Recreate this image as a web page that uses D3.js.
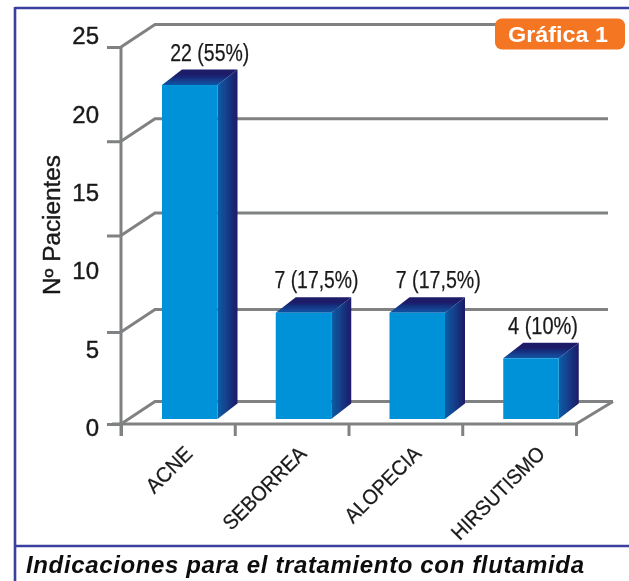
<!DOCTYPE html>
<html><head><meta charset="utf-8">
<script src="https://cdn.jsdelivr.net/npm/d3@7"></script>
<style>html,body{margin:0;padding:0;background:#fff}svg{display:block}text{font-family:"Liberation Sans",Arial,sans-serif}</style>
</head><body><div id="c"></div>
<script>
const categories=["ACNE","SEBORREA","ALOPECIA","HIRSUTISMO"];
const patients=[22,7,7,4];
const valueLabels=["22 (55%)","7 (17,5%)","7 (17,5%)","4 (10%)"];
const tickLabels=[0,5,10,15,20,25];
const gridTicks=[0,6.1,12.5,18.75,25];
const valueLabelShift=[10,3,11,2];
const valueLabelWidths=[79,84,85,70];
const catLabelWidths=[56,108,98,122];
const catLabelShift=[8,8,9,19];
const title="Indicaciones para el tratamiento con flutamida";
const badge="Gráfica 1";
const yTitle="Nº Pacientes";

const W=629,H=581;
const svg=d3.select("#c").append("svg").attr("width",W).attr("height",H);
const defs=svg.append("defs");
defs.append("filter").attr("id","soft").attr("x","-5%").attr("y","-5%").attr("width","110%").attr("height","110%")
  .append("feGaussianBlur").attr("stdDeviation",0.5);
const side=defs.append("linearGradient").attr("id","side");
side.append("stop").attr("offset","0").attr("stop-color","#0d5fa8");
side.append("stop").attr("offset","1").attr("stop-color","#1c1a68");
const topG=defs.append("linearGradient").attr("id","topface").attr("x1",0).attr("x2",0).attr("y1",1).attr("y2",0);
topG.append("stop").attr("offset","0").attr("stop-color","#0f56a6");
topG.append("stop").attr("offset","0.7").attr("stop-color","#1c1a68");

const root=svg.append("g").attr("filter","url(#soft)");
const grey="#808182";
const ink="#1a1a1a";
const sw=3;
const depthX=34,depthY=22.5,barDX=20,barDY=15.5;

const yGrid=d3.scaleLinear().domain([0,25]).range([424,47]);
const yBar=d3.scaleLinear().domain([0,25]).range([419,39.5]);
const yLabel=d3.scalePoint().domain(tickLabels).range([427,35]);
const xBand=d3.scaleBand().domain(categories).range([121,576]);
const xEdge=d3.scalePoint().domain(d3.range(categories.length+1)).range([121,576]);
const barOffset=41,barW=55.5;

const grid=root.append("g").attr("fill","none").attr("stroke",grey).attr("stroke-width",sw);
gridTicks.forEach(t=>{
  const y=yGrid(t);
  const xEnd=t===0?613:(t===25?500:608);
  grid.append("path").attr("d",d3.line()([[121,y],[121+depthX,y-depthY],[xEnd,y-depthY]]));
});
grid.append("path").attr("d",d3.line()([[576,yGrid(0)],[613,yGrid(0)-depthY]]));

const yAx=root.append("g").attr("transform","translate(121,0)")
  .call(d3.axisLeft(yGrid).tickValues(gridTicks).tickSize(14).tickFormat(""));
yAx.selectAll("line,path").attr("stroke",grey).attr("stroke-width",sw);
yAx.select(".domain").attr("d",d3.line()([[0,yGrid(25)],[0,436]]));
const xAx=root.append("g").attr("transform",`translate(0,${yGrid(0)})`)
  .call(d3.axisBottom(xEdge).tickSize(12).tickFormat(""));
xAx.selectAll("line,path").attr("stroke",grey).attr("stroke-width",sw);
xAx.select(".domain").attr("d",d3.line()([[112,0],[576,0]]));

const lab=root.append("g").attr("transform","translate(99,0)")
  .call(d3.axisLeft(yLabel).tickSize(0).tickPadding(0));
lab.select(".domain").remove();
lab.selectAll("text").attr("font-size",24).attr("fill",ink).attr("stroke",ink).attr("stroke-width",0.4)
  .style("font-family",'"Liberation Sans"').attr("dy","0.36em");

const bars=root.append("g").selectAll("g").data(categories).join("g");
bars.each(function(c,i){
  const g=d3.select(this),x0=xBand(c)+barOffset,x1=x0+barW,t=yBar(patients[i]),b=yBar(0);
  g.append("path").attr("fill","url(#side)").attr("d",d3.line()([[x1,t],[x1+barDX,t-barDY],[x1+barDX,b-barDY],[x1,b]])+"Z");
  g.append("path").attr("fill","url(#topface)").attr("d",d3.line()([[x0,t],[x0+barDX,t-barDY],[x1+barDX,t-barDY],[x1,t]])+"Z");
  g.append("rect").attr("x",x0).attr("y",t).attr("width",barW).attr("height",b-t).attr("fill","#0092d8");
  g.append("text").attr("x",x0+barW/2+barDX/2+valueLabelShift[i]).attr("y",t-barDY-9)
    .attr("text-anchor","middle").attr("font-size",23).attr("fill",ink).attr("stroke",ink).attr("stroke-width",0.25)
    .attr("textLength",valueLabelWidths[i]).attr("lengthAdjust","spacingAndGlyphs").text(valueLabels[i]);
  const cx=xBand(c)+xBand.bandwidth()/2+8+catLabelShift[i], cy=455;
  g.append("text").attr("transform",`translate(${cx},${cy}) rotate(-45)`).attr("text-anchor","end")
    .attr("font-size",21).attr("fill",ink).attr("stroke",ink).attr("stroke-width",0.25)
    .attr("textLength",catLabelWidths[i]).attr("lengthAdjust","spacingAndGlyphs").text(c);
});

root.append("text").attr("transform","translate(60,225) rotate(-90)").attr("text-anchor","middle")
  .attr("font-size",23).attr("fill",ink).attr("stroke",ink).attr("stroke-width",0.4)
  .attr("textLength",140).attr("lengthAdjust","spacingAndGlyphs").text(yTitle);

const frame=root.append("g").attr("stroke","#3a3f9e").attr("stroke-width",2.6);
frame.append("line").attr("x1",15).attr("x2",W).attr("y1",8).attr("y2",8);
frame.append("line").attr("x1",15).attr("x2",15).attr("y1",7).attr("y2",H);
frame.append("line").attr("x1",15).attr("x2",W).attr("y1",546).attr("y2",546);

root.append("rect").attr("x",495).attr("y",18.5).attr("width",130).attr("height",31).attr("rx",7).attr("fill","#f47421");
root.append("text").attr("x",558).attr("y",42).attr("text-anchor","middle").attr("font-size",22).attr("font-weight","bold")
  .attr("fill","#fff").attr("textLength",100).attr("lengthAdjust","spacingAndGlyphs").text(badge);

root.append("text").attr("x",26).attr("y",573).attr("font-size",24).attr("font-weight","bold").attr("font-style","italic")
  .attr("fill","#111").attr("textLength",558).attr("lengthAdjust","spacing").text(title);
</script></body></html>
